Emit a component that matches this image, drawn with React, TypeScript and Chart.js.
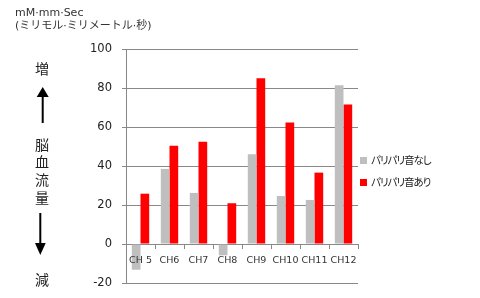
import React, { useEffect, useRef } from "react";
import { Chart, registerables } from "chart.js";

Chart.register(...registerables);

const categories = ["CH 5", "CH6", "CH7", "CH8", "CH9", "CH10", "CH11", "CH12"];
const seriesNames = ["パリパリ音なし", "パリパリ音あり"];
const noCrackle = [-13.2, 38.5, 26.2, -5.8, 46, 24.6, 22.6, 81.4];
const withCrackle = [25.8, 50.4, 52.5, 20.9, 85, 62.3, 36.6, 71.6];
const seriesColors = ["#BFBFBF", "#FF0000"];
const yMin = -20;
const yMax = 100;
const yStep = 20;

const latin = '"DejaVu Sans", Verdana, sans-serif';
const jp = '"DejaVu Sans", "Noto Sans CJK JP", sans-serif';

export default function App() {
  const canvasRef = useRef<HTMLCanvasElement | null>(null);

  useEffect(() => {
    if (!canvasRef.current) return;
    const chart = new Chart(canvasRef.current, {
      type: "bar",
      data: {
        labels: categories,
        datasets: [
          { label: seriesNames[0], data: noCrackle, backgroundColor: seriesColors[0], categoryPercentage: 0.6, barPercentage: 1 },
          { label: seriesNames[1], data: withCrackle, backgroundColor: seriesColors[1], categoryPercentage: 0.6, barPercentage: 1 },
        ],
      },
      options: {
        responsive: false,
        animation: false,
        layout: { padding: { left: 0, top: 49, right: 122, bottom: 15 } },
        plugins: { legend: { display: false }, tooltip: { enabled: false } },
        scales: {
          x: {
            position: { y: 0 } as any,
            grid: { display: true, drawOnChartArea: false, tickLength: 4, color: "#888888", offset: true },
            border: { display: true, color: "#888888" },
            ticks: { z: 1, color: "#333333", padding: 7, font: { family: latin, size: 9.5 }, maxRotation: 0, autoSkip: false },
          },
          y: {
            min: yMin,
            max: yMax,
            afterFit: (s: any) => { s.width = 126; s.paddingTop = 0; s.paddingBottom = 0; },
            grid: { color: "#888888", tickLength: 4 },
            border: { display: true, color: "#888888" },
            ticks: { stepSize: yStep, color: "#222222", padding: 10, font: { family: latin, size: 11.5 } },
          },
        },
      },
    });
    return () => chart.destroy();
  }, []);

  const abs = (extra: React.CSSProperties): React.CSSProperties => ({ position: "absolute", whiteSpace: "nowrap", ...extra });
  const bigChar = (ch: string, cy: number) => (
    <div key={ch} style={abs({ left: 28, width: 28, top: cy - 10, height: 20, lineHeight: "20px", textAlign: "center", fontFamily: '"Noto Sans CJK JP", sans-serif', fontSize: 14, color: "#222" })}>{ch}</div>
  );

  return (
    <div style={{ position: "fixed", left: 0, top: 0, width: 480, height: 298, background: "#fff", overflow: "hidden" }}>
      <canvas ref={canvasRef} width={480} height={298} style={{ display: "block", position: "absolute", left: 0, top: 0 }} />
      <div style={abs({ left: 15, top: 6, lineHeight: "14px", fontFamily: latin, fontSize: 11, color: "#333" })}>mM·mm·Sec</div>
      <div style={abs({ left: 15, top: 19, lineHeight: "14px", fontFamily: jp, fontSize: 11, color: "#333" })}>(ミリモル·ミリメートル·秒)</div>
      {bigChar("増", 68)}
      {bigChar("脳", 144)}
      {bigChar("血", 161)}
      {bigChar("流", 179)}
      {bigChar("量", 197)}
      {bigChar("減", 279)}
      <svg width={80} height={298} style={{ position: "absolute", left: 0, top: 0 }}>
        <line x1={42.7} y1={96} x2={42.7} y2={123} stroke="#000" strokeWidth={2} />
        <polygon points="36.7,97 48.7,97 42.7,87" fill="#000" />
        <line x1={40.3} y1={213} x2={40.3} y2={244} stroke="#000" strokeWidth={2} />
        <polygon points="35,243 45.7,243 40.3,255" fill="#000" />
      </svg>
      {seriesNames.map((n, i) => (
        <div key={n} style={abs({ left: 360, top: [153, 175][i], height: 14, lineHeight: "14px", fontFamily: '"Noto Sans CJK JP", sans-serif', fontSize: 10.5, letterSpacing: -1, color: "#222", fontFeatureSettings: '"palt"' })}>
          <span style={{ display: "inline-block", width: 7, height: 7, background: seriesColors[i], marginRight: 4, verticalAlign: "middle", position: "relative", top: -1 }} />
          {n}
        </div>
      ))}
    </div>
  );
}
